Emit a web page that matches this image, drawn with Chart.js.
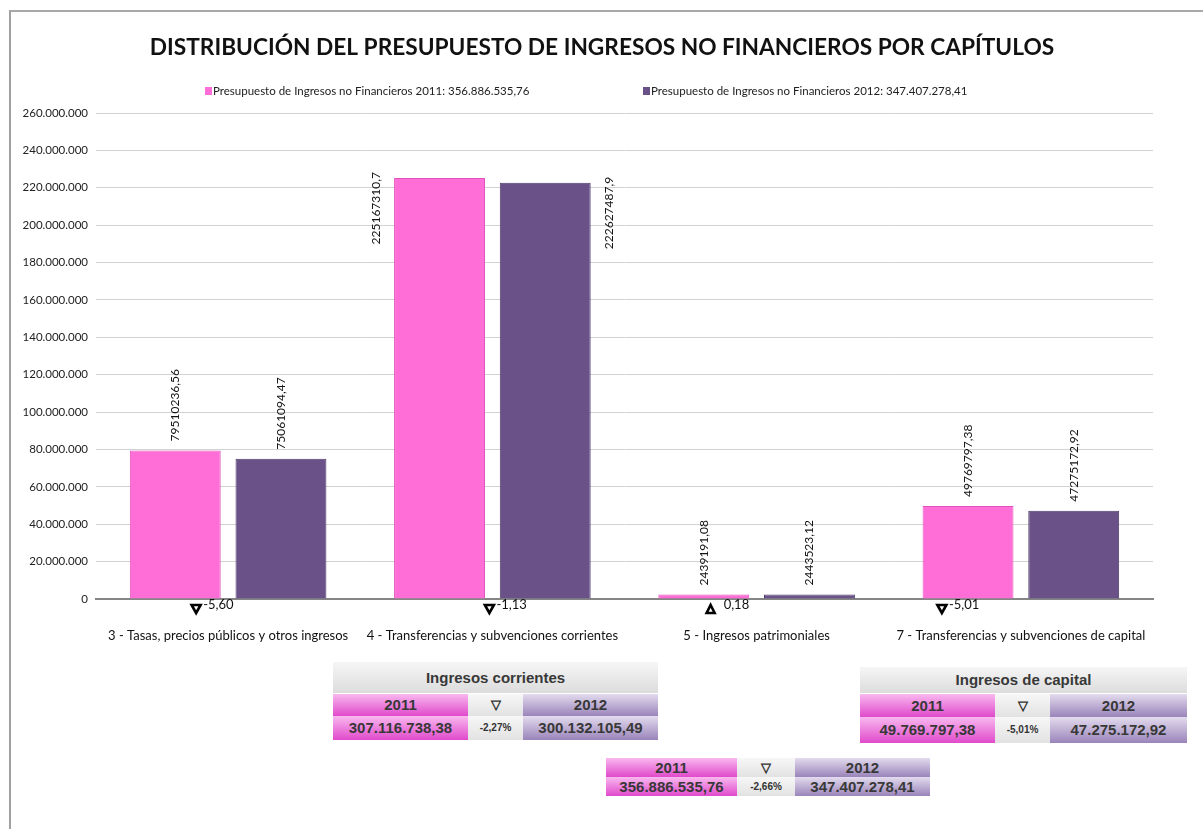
<!DOCTYPE html>
<html>
<head>
<meta charset="utf-8">
<script src="https://cdn.jsdelivr.net/npm/chart.js@4/dist/chart.umd.min.js"></script>
<style>
    body { margin: 0; background: #fff; width: 1203px; height: 829px; overflow: hidden; position: relative; }
    #frame { position: absolute; left: 9px; top: 10px; width: 1200px; height: 830px; border-left: 2px solid #a0a0a0; border-top: 2px solid #a8a8a8; }
    #my-chart { position: absolute; left: 0; top: 0; }
    .tbl { position: absolute; font-family: "Liberation Sans", Arial, sans-serif; font-weight: bold; color: #383838; }
    .tbl div { position: absolute; text-align: center; }
    .hd { background: linear-gradient(#f6f6f6, #dcdcdc); font-size: 15px; }
    .pk { background: linear-gradient(#f9b8ef, #e04acb); font-size: 15px; }
    .pu { background: linear-gradient(#e3dbee, #9a84ba); font-size: 15px; }
    .md { background: linear-gradient(#f7f7f7, #e2e2e2); font-size: 10px; color: #333; }
</style>
</head>
<body>
<div id="frame"></div>
<canvas id="my-chart" width="1203" height="660"></canvas>

<div class="tbl" style="left:333px; top:662px;">
    <div class="hd" style="left:0; top:0; width:325px; height:31px; line-height:31px;">Ingresos corrientes</div>
    <div class="pk" style="left:0; top:32px; width:135px; height:22px; line-height:22px;">2011</div>
    <div class="md" style="left:135px; top:32px; width:55px; height:22px; line-height:22px; font-size:13px;">&#9661;</div>
    <div class="pu" style="left:190px; top:32px; width:135px; height:22px; line-height:22px;">2012</div>
    <div class="pk" style="left:0; top:54px; width:135px; height:24px; line-height:24px;">307.116.738,38</div>
    <div class="md" style="left:135px; top:54px; width:55px; height:24px; line-height:24px;">-2,27%</div>
    <div class="pu" style="left:190px; top:54px; width:135px; height:24px; line-height:24px;">300.132.105,49</div>
</div>

<div class="tbl" style="left:860px; top:667px;">
    <div class="hd" style="left:0; top:0; width:327px; height:26px; line-height:26px;">Ingresos de capital</div>
    <div class="pk" style="left:0; top:27px; width:135px; height:23px; line-height:23px;">2011</div>
    <div class="md" style="left:135px; top:27px; width:55px; height:23px; line-height:23px; font-size:13px;">&#9661;</div>
    <div class="pu" style="left:190px; top:27px; width:137px; height:23px; line-height:23px;">2012</div>
    <div class="pk" style="left:0; top:50px; width:135px; height:26px; line-height:26px;">49.769.797,38</div>
    <div class="md" style="left:135px; top:50px; width:55px; height:26px; line-height:26px;">-5,01%</div>
    <div class="pu" style="left:190px; top:50px; width:137px; height:26px; line-height:26px;">47.275.172,92</div>
</div>

<div class="tbl" style="left:606px; top:758px;">
    <div class="pk" style="left:0; top:0; width:131px; height:19px; line-height:19px;">2011</div>
    <div class="md" style="left:131px; top:0; width:58px; height:19px; line-height:19px; font-size:13px;">&#9661;</div>
    <div class="pu" style="left:189px; top:0; width:135px; height:19px; line-height:19px;">2012</div>
    <div class="pk" style="left:0; top:19px; width:131px; height:19px; line-height:19px;">356.886.535,76</div>
    <div class="md" style="left:131px; top:19px; width:58px; height:19px; line-height:19px;">-2,66%</div>
    <div class="pu" style="left:189px; top:19px; width:135px; height:19px; line-height:19px;">347.407.278,41</div>
</div>

<script>
// datos del grafico
const categories = [
    "3 - Tasas, precios públicos y otros ingresos",
    "4 - Transferencias y subvenciones corrientes",
    "5 - Ingresos patrimoniales",
    "7 - Transferencias y subvenciones de capital",
];
const values2011 = [79510236.56, 225167310.7, 2439191.08, 49769797.38];
const values2012 = [75061094.47, 222627487.9, 2443523.12, 47275172.92];
const labels2011 = ["79510236,56", "225167310,7", "2439191,08", "49769797,38"];
const labels2012 = ["75061094,47", "222627487,9", "2443523,12", "47275172,92"];
const changes = ["-5,60", "-1,13", "0,18", "-5,01"];
const seriesNames = [
    "Presupuesto de Ingresos no Financieros 2011: 356.886.535,76",
    "Presupuesto de Ingresos no Financieros 2012: 347.407.278,41",
];
const titleText = "DISTRIBUCIÓN DEL PRESUPUESTO DE INGRESOS NO FINANCIEROS POR CAPÍTULOS";

// desplazamiento de las marcas de variacion respecto al centro de cada categoria
const markerShift = [-32, -3, -46, -79];

const PINK = "#ff6ed6";
const PURPLE = "#6a5289";

const formatMiles = (v) => String(Math.round(v)).replace(/\B(?=(\d{3})+(?!\d))/g, ".");

// titulo y leyenda dibujados a mano
const headerPlugin = {
    id: "header",
    afterDraw(chart) {
        const ctx = chart.ctx;
        ctx.save();
        ctx.fillStyle = "#111";
        ctx.font = "bold 22.7px Lato, sans-serif";
        ctx.textAlign = "center";
        ctx.textBaseline = "middle";
        ctx.fillText(titleText, 602, 48);

        ctx.font = "11.5px Lato, sans-serif";
        ctx.textAlign = "left";
        const legendX = [205, 643];
        chart.data.datasets.forEach((ds, i) => {
            ctx.fillStyle = ds.backgroundColor;
            ctx.fillRect(legendX[i], 87, 7, 8);
            ctx.fillStyle = "#222";
            ctx.fillText(seriesNames[i], legendX[i] + 8, 91);
        });
        ctx.restore();
    },
};

// etiquetas de valores y marcas de variacion
const labelsPlugin = {
    id: "valueLabels",
    afterDatasetsDraw(chart) {
        const ctx = chart.ctx;
        ctx.save();
        ctx.font = "12px Lato, sans-serif";
        ctx.fillStyle = "#111";
        ctx.textBaseline = "middle";
        const texts = [labels2011, labels2012];
        chart.data.datasets.forEach((ds, di) => {
            chart.getDatasetMeta(di).data.forEach((bar, i) => {
                ctx.save();
                if (ds.data[i] > 200000000) {
                    // no cabe encima: a un lado de la barra
                    const x = di === 0 ? bar.x - bar.width / 2 - 18 : bar.x + bar.width / 2 + 18;
                    ctx.translate(x, bar.y - 6);
                    ctx.rotate(-Math.PI / 2);
                    ctx.textAlign = "right";
                } else {
                    ctx.translate(bar.x, bar.y - 9);
                    ctx.rotate(-Math.PI / 2);
                    ctx.textAlign = "left";
                }
                ctx.fillText(texts[di][i], 0, 0);
                ctx.restore();
            });
        });

        const xScale = chart.scales.x;
        const base = chart.chartArea.bottom;
        ctx.font = "13px Lato, sans-serif";
        changes.forEach((c, i) => {
            const cx = xScale.getPixelForValue(i) + markerShift[i];
            const up = !c.startsWith("-");
            const ty = base + 10;
            ctx.beginPath();
            if (up) {
                ctx.moveTo(cx, ty - 4);
                ctx.lineTo(cx + 4, ty + 4);
                ctx.lineTo(cx - 4, ty + 4);
            } else {
                ctx.moveTo(cx - 4.5, ty - 4);
                ctx.lineTo(cx + 4.5, ty - 4);
                ctx.lineTo(cx, ty + 4);
            }
            ctx.closePath();
            ctx.lineWidth = 2.6;
            ctx.strokeStyle = "#000";
            ctx.stroke();
            ctx.textAlign = "left";
            ctx.fillStyle = "#111";
            ctx.fillText(c, cx + (up ? 13 : 7), base + 6);
        });
        ctx.restore();
    },
};

const ctx = document.getElementById("my-chart").getContext("2d");
const chart = new Chart(ctx, {
    type: "bar",
    data: {
        labels: categories,
        datasets: [
            {
                label: seriesNames[0],
                data: values2011,
                backgroundColor: PINK,
                borderColor: "#e052bd",
                borderWidth: 1,
            },
            {
                label: seriesNames[1],
                data: values2012,
                backgroundColor: PURPLE,
                borderColor: "#4d3b68",
                borderWidth: 1,
            },
        ],
    },
    options: {
        responsive: false,
        animation: false,
        layout: { padding: { left: 10, right: 50, top: 113, bottom: 11 } },
        datasets: { bar: { categoryPercentage: 0.8, barPercentage: 0.86 } },
        plugins: {
            legend: { display: false },
            title: { display: false },
            tooltip: { enabled: false },
        },
        scales: {
            x: {
                grid: { display: false },
                border: { color: "#858585", width: 2 },
                ticks: {
                    padding: 21,
                    color: "#111",
                    font: { family: "Lato, sans-serif", size: 13 },
                    maxRotation: 0,
                    autoSkip: false,
                },
                afterFit: (scale) => { scale.height = 50; },
            },
            y: {
                min: 0,
                max: 260000000,
                grid: { color: "#d2d2d2", drawTicks: false },
                border: { display: false },
                ticks: {
                    stepSize: 20000000,
                    padding: 8,
                    color: "#222",
                    font: { family: "Lato, sans-serif", size: 11.5 },
                    callback: (v) => formatMiles(v),
                },
                afterFit: (scale) => { scale.width = 86; },
            },
        },
    },
    plugins: [labelsPlugin, headerPlugin],
});
</script>
</body>
</html>
